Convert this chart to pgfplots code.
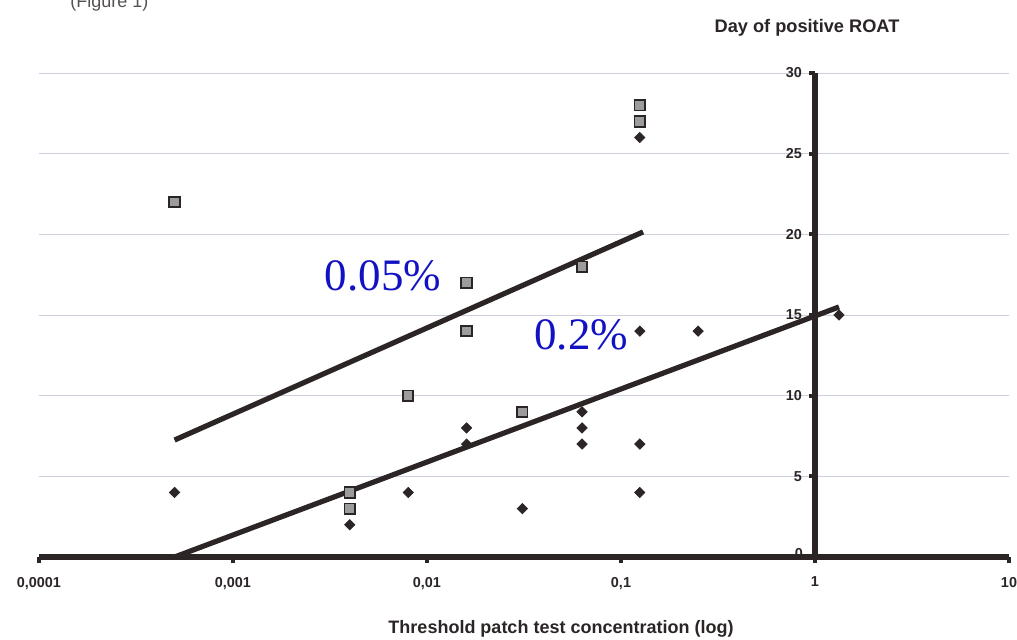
\documentclass[border=0pt]{standalone}
\usepackage{pgfplots}
\pgfplotsset{compat=1.18}
\usepackage{fontspec}
\setmainfont{Liberation Sans}
\newfontfamily\serifbig{Liberation Serif}
\definecolor{ink}{HTML}{2B2525}
\definecolor{gridc}{HTML}{CDCFDF}
\definecolor{lblue}{HTML}{1212C4}
\definecolor{sqfill}{HTML}{9C9C9C}

\begin{document}
\begin{tikzpicture}
\useasboundingbox (-19.5pt,-41pt) rectangle (489pt,278.5pt);
\begin{axis}[
  scale only axis, width=485pt, height=242pt,
  xmode=log, xmin=1e-4, xmax=10, ymin=0, ymax=30,
  axis x line=bottom, axis y line=center,
  axis line style={-, ink, line width=2.6pt},
  x axis line style={-}, y axis line style={-},
  xtick={1e-4,1e-3,1e-2,1e-1,1,10},
  xticklabels={{0,0001},{0,001},{0,01},{0,1},1,10},
  xminorticks=false,
  ytick={0,5,10,15,20,25,30},
  yticklabels={0,5,10,15,20,25,30},
  tick align=outside, major tick length=3pt,
  tick style={ink, line width=2pt},
  ticklabel style={font=\bfseries\fontsize{7.2}{8}\selectfont, text=ink},
  xticklabel style={yshift=-3.5pt},
  ymajorgrids, grid style={gridc, line width=0.5pt},
  clip=false,
]
% regression lines
\addplot[ink, line width=2.6pt, no marks] coordinates {(0.0005,7.25) (0.13,20.15)};
\addplot[ink, line width=2.6pt, no marks] coordinates {(0.0005,0) (1.33,15.5)};
% 0.05% (squares)
\addplot[only marks, mark=square*, mark size=2.6pt,
  mark options={fill=sqfill, draw=ink, line width=0.9pt}] coordinates {
  (0.0005,22) (0.004,4) (0.004,3) (0.008,10) (0.016,17) (0.016,14)
  (0.031,9) (0.063,18) (0.125,28) (0.125,27)};
% 0.2% (diamonds)
\addplot[only marks, mark=square*, mark size=1.8pt,
  mark options={rotate=45, fill=ink, draw=ink}] coordinates {
  (0.0005,4) (0.004,2) (0.008,4) (0.016,8) (0.016,7) (0.031,3)
  (0.063,9) (0.063,8) (0.063,7) (0.125,26) (0.125,14) (0.125,7)
  (0.125,4) (0.25,14) (1.33,15)};
\node[anchor=base west, inner sep=0pt, text=lblue, font=\serifbig\fontsize{22.5}{26}\selectfont]
  at (axis cs:0.00296,16.55) {0.05\%};
\node[anchor=base west, inner sep=0pt, text=lblue, font=\serifbig\fontsize{22.5}{26}\selectfont]
  at (axis cs:0.0356,12.85) {0.2\%};
\node[inner sep=0pt, font=\bfseries\fontsize{7.2}{8}\selectfont, text=ink]
  at (axis cs:1,0) [xshift=-8pt, yshift=1.5pt] {0};
\end{axis}
\node[anchor=base, inner sep=0pt, font=\bfseries\fontsize{9.1}{11}\selectfont, text=ink]
  at (384pt,262.5pt) {Day of positive ROAT};
\node[anchor=base, inner sep=0pt, font=\bfseries\fontsize{9}{11}\selectfont, text=ink]
  at (261pt,-38pt) {Threshold patch test concentration (log)};
\node[anchor=base west, inner sep=0pt, font=\fontsize{9}{10}\selectfont, text=ink!80]
  at (15.5pt,275pt) {(Figure 1)};
\end{tikzpicture}
\end{document}
